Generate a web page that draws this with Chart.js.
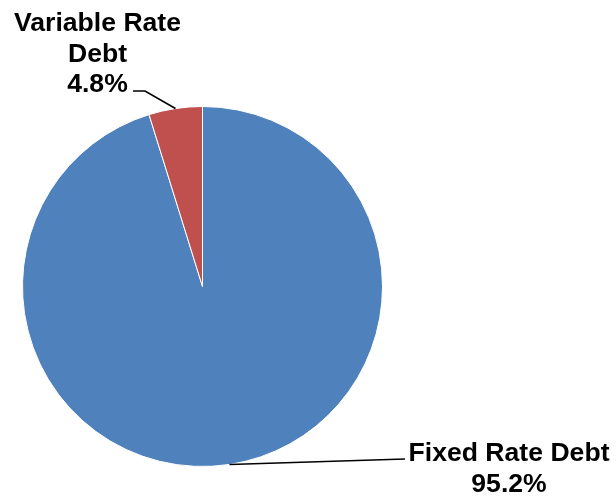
<!DOCTYPE html>
<html>
<head>
<meta charset="utf-8">
<title>Debt Composition</title>
<script src="https://cdn.jsdelivr.net/npm/chart.js@4.4.1/dist/chart.umd.min.js"></script>
<style>
  html, body { margin: 0; padding: 0; background: #ffffff; }
  #wrap { width: 616px; height: 497px; }
</style>
</head>
<body>
<div id="wrap"><canvas id="debtPie" width="616" height="497"></canvas></div>
<script>
// Debt mix, in percent of total
const categories = ['Fixed Rate Debt', 'Variable Rate Debt'];
const shares = [95.2, 4.8];

// How each category name is broken over lines in its callout
const labelLines = {
  'Fixed Rate Debt': ['Fixed Rate Debt'],
  'Variable Rate Debt': ['Variable Rate', 'Debt']
};

// Callout placement: text centre, first baseline, and the leader path
// from the slice edge (elbow points, then the end beside the text)
const callouts = {
  'Fixed Rate Debt': { cx: 509, top: 461, path: [[405, 459]] },
  'Variable Rate Debt': { cx: 97.5, top: 31, path: [[145, 91], [133, 91]] }
};

const LABEL_FONT = 'bold 26.6px "Liberation Sans", Arial, Helvetica, sans-serif';
const LINE_STEP = 30.5;

const calloutPlugin = {
  id: 'sliceCallouts',
  afterDatasetsDraw(chart) {
    const ctx = chart.ctx;
    const meta = chart.getDatasetMeta(0);
    const values = chart.data.datasets[0].data;
    meta.data.forEach((arc, i) => {
      const name = chart.data.labels[i];
      const spec = callouts[name];
      const p = arc.getProps(['x', 'y', 'startAngle', 'endAngle', 'outerRadius'], true);
      const mid = (p.startAngle + p.endAngle) / 2;
      const ax = p.x + Math.cos(mid) * p.outerRadius;
      const ay = p.y + Math.sin(mid) * p.outerRadius;

      ctx.save();
      ctx.strokeStyle = '#000000';
      ctx.lineWidth = 1.6;
      ctx.beginPath();
      ctx.moveTo(ax, ay);
      spec.path.forEach(pt => ctx.lineTo(pt[0], pt[1]));
      ctx.stroke();

      const lines = labelLines[name].concat([values[i].toFixed(1) + '%']);
      ctx.font = LABEL_FONT;
      ctx.fillStyle = '#000000';
      ctx.textAlign = 'center';
      ctx.textBaseline = 'alphabetic';
      lines.forEach((t, k) => ctx.fillText(t, spec.cx, spec.top + k * LINE_STEP));
      ctx.restore();
    });
  }
};

new Chart(document.getElementById('debtPie'), {
  type: 'pie',
  data: {
    labels: categories,
    datasets: [{
      data: shares,
      backgroundColor: ['#4F81BD', '#C0504D'],
      borderColor: '#ffffff',
      borderWidth: 1
    }]
  },
  options: {
    responsive: false,
    animation: false,
    events: [],
    layout: { padding: { left: 22, top: 106, right: 233, bottom: 30 } },
    plugins: {
      legend: { display: false },
      tooltip: { enabled: false }
    }
  },
  plugins: [calloutPlugin]
});
</script>
</body>
</html>
